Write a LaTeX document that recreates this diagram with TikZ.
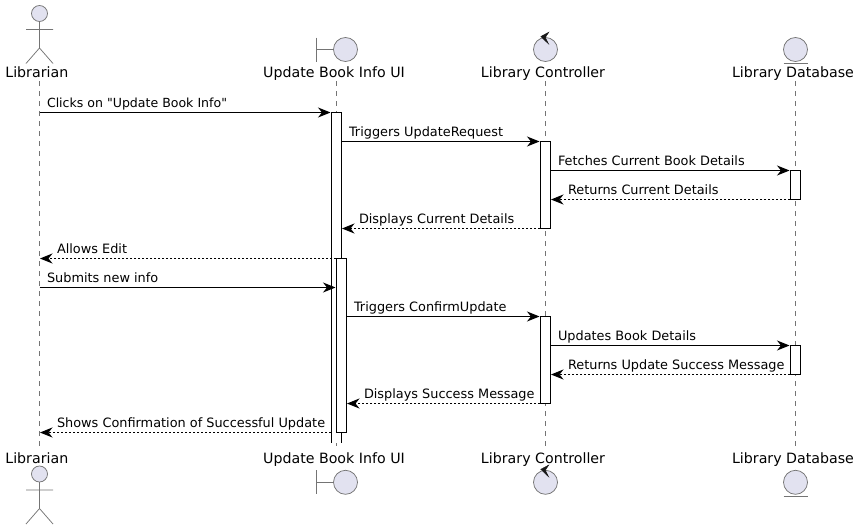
\documentclass[tikz,border=0pt]{standalone}
\usepackage{fontspec}
\setmainfont{DejaVu Sans}[Ligatures=TeXOff]
\usetikzlibrary{arrows.meta}
\definecolor{ink}{HTML}{181818}
\definecolor{soft}{HTML}{747474}
\definecolor{pfill}{HTML}{E2E2F0}
\tikzset{
  x=1pt,y=-1pt,
  part/.style={inner sep=0pt,outer sep=0pt,anchor=base,font=\fontsize{14.2}{16}\selectfont,text=black},
  msgtext/.style={inner sep=0pt,outer sep=0pt,anchor=base west,font=\fontsize{12.87}{15}\selectfont,text=black},
  life/.style={draw=soft,line width=0.75pt,dash pattern=on 5pt off 5pt},
  icon/.style={draw=soft,line width=0.75pt,fill=pfill},
  iconline/.style={draw=soft,line width=0.75pt},
  act/.style={draw=black,line width=1pt,fill=white,inner sep=0pt,outer sep=0pt,minimum width=10pt},
  barfill/.style={fill=white,inner sep=0pt,outer sep=0pt,minimum width=10pt},
  sync/.style={draw=black,line width=1pt,-{Stealth[length=12.5pt,width=10pt,inset=4pt]}},
  reply/.style={draw=black,line width=0.8pt,dash pattern=on 2pt off 2pt,-{Stealth[length=12.5pt,width=10pt,inset=4pt]}},
}
\begin{document}
\begin{tikzpicture}
\useasboundingbox (0,0) rectangle (859,530);
% participant labels
\node[part] (libT) at (36.8,77.7) {Librarian};
\node[part] (uiT)  at (334,77.7) {Update Book Info UI};
\node[part] (conT) at (543,77.7) {Library Controller};
\node[part] (dbT)  at (793,77.7) {Library Database};
\node[part] (libB) at (36.8,463.3) {Librarian};
\node[part] (uiB)  at (334,463.3) {Update Book Info UI};
\node[part] (conB) at (543,463.3) {Library Controller};
\node[part] (dbB)  at (793,463.3) {Library Database};
% lifeline ends
\coordinate (libA) at (39.5,81);  \coordinate (libZ) at (39.5,446.5);
\coordinate (uiA)  at (336.5,81); \coordinate (uiZ)  at (336.5,446.5);
\coordinate (conA) at (545.5,81); \coordinate (conZ) at (545.5,446.5);
\coordinate (dbA)  at (795.5,81); \coordinate (dbZ)  at (795.5,446.5);
\draw[life] (libA) -- (libZ);
\draw[life] (uiA) -- (uiZ);
\draw[life] (conA) -- (conZ);
\draw[life] (dbA) -- (dbZ);
% actor icons
\foreach \yo in {0,460.5}{
  \begin{scope}[yshift=-\yo pt]
    \draw[iconline] (39.5,21.5) -- (39.5,48) (26,29.5) -- (53,29.5) (26,63.5) -- (39.5,48) -- (53,63.5);
    \draw[icon] (39.5,13.5) circle[radius=8];
  \end{scope}
}
% boundary
\draw[iconline] (316.5,37.5) -- (316.5,61.5) (316.5,49.5) -- (333.5,49.5);
\draw[icon] (345.5,49.5) circle[radius=12];
\draw[iconline] (316.5,470.3) -- (316.5,494.3) (316.5,482.3) -- (333.5,482.3);
\draw[icon] (345.5,482.3) circle[radius=12];
% control
\draw[icon] (545.5,49.5) circle[radius=12];
\filldraw[ink,line width=0.4pt] (540.8,36.5) -- (548.8,32.2) -- (545.3,37.5) -- (548.6,44) -- cycle;
\draw[icon] (545.5,482.3) circle[radius=12];
\filldraw[ink,line width=0.4pt] (540.8,469.3) -- (548.8,465) -- (545.3,470.3) -- (548.6,476.8) -- cycle;
% entity
\draw[icon] (795.5,49.5) circle[radius=12];
\draw[iconline] (783.5,63.5) -- (807.5,63.5);
\draw[icon] (795.5,482.3) circle[radius=12];
\draw[iconline] (783.5,496.3) -- (807.5,496.3);
% activations
\node[barfill,minimum height=330pt] (uiOne) at (336.5,277.5) {};
\draw[line width=1pt] (uiOne.south west) -- (uiOne.north west) -- (uiOne.north east) -- (uiOne.south east);
\node[act,minimum height=174pt] (uiTwo) at (341.5,345.5) {};
\node[act,minimum height=87pt] (conOne) at (545.5,184.5) {};
\node[act,minimum height=87pt] (conTwo) at (545.5,359.5) {};
\node[act,minimum height=29pt] (dbOne) at (795.5,184.5) {};
\node[act,minimum height=29pt] (dbTwo) at (795.5,359.5) {};
% message end points
\coordinate (a1) at (39.5,112.5);  \coordinate (b1) at (330.5,112.5);
\coordinate (a2) at (341.5,141.5); \coordinate (b2) at (539.5,141.5);
\coordinate (a3) at (550.5,170.5); \coordinate (b3) at (789.5,170.5);
\coordinate (a4) at (790,199.5);   \coordinate (b4) at (551,199.5);
\coordinate (a5) at (540,228.5);   \coordinate (b5) at (342,228.5);
\coordinate (a6) at (336,258.5);   \coordinate (b6) at (40,258.5);
\coordinate (a7) at (39.5,287.5);  \coordinate (b7) at (335.5,287.5);
\coordinate (a8) at (346.5,316.5); \coordinate (b8) at (539.5,316.5);
\coordinate (a9) at (550.5,345.5); \coordinate (b9) at (789.5,345.5);
\coordinate (a10) at (790,374.5);  \coordinate (b10) at (551,374.5);
\coordinate (a11) at (540,403.5);  \coordinate (b11) at (347,403.5);
\coordinate (a12) at (331,432.5);  \coordinate (b12) at (40,432.5);
% messages
\draw[sync] (a1) -- (b1);
\draw[sync] (a2) -- (b2);
\draw[sync] (a3) -- (b3);
\draw[reply] (a4) -- (b4);
\draw[reply] (a5) -- (b5);
\draw[reply] (a6) -- (b6);
\draw[sync] (a7) -- (b7);
\draw[sync] (a8) -- (b8);
\draw[sync] (a9) -- (b9);
\draw[reply] (a10) -- (b10);
\draw[reply] (a11) -- (b11);
\draw[reply] (a12) -- (b12);
% message labels
\node[msgtext,font=\fontsize{12.55}{15}\selectfont] (t1) at (47,107.5) {Clicks on "Update Book Info"};
\node[msgtext] (t2) at (349,136.5) {Triggers UpdateRequest};
\node[msgtext] (t3) at (558,165.7) {Fetches Current Book Details};
\node[msgtext] (t4) at (568,194.7) {Returns Current Details};
\node[msgtext] (t5) at (359,223.7) {Displays Current Details};
\node[msgtext] (t6) at (57,253.4) {Allows Edit};
\node[msgtext] (t7) at (47,282.4) {Submits new info};
\node[msgtext] (t8) at (354,311.4) {Triggers ConfirmUpdate};
\node[msgtext] (t9) at (558,340.4) {Updates Book Details};
\node[msgtext] (t10) at (568,369.4) {Returns Update Success Message};
\node[msgtext] (t11) at (364,398.4) {Displays Success Message};
\node[msgtext] (t12) at (57,427.4) {Shows Confirmation of Successful Update};
\end{tikzpicture}
\end{document}
